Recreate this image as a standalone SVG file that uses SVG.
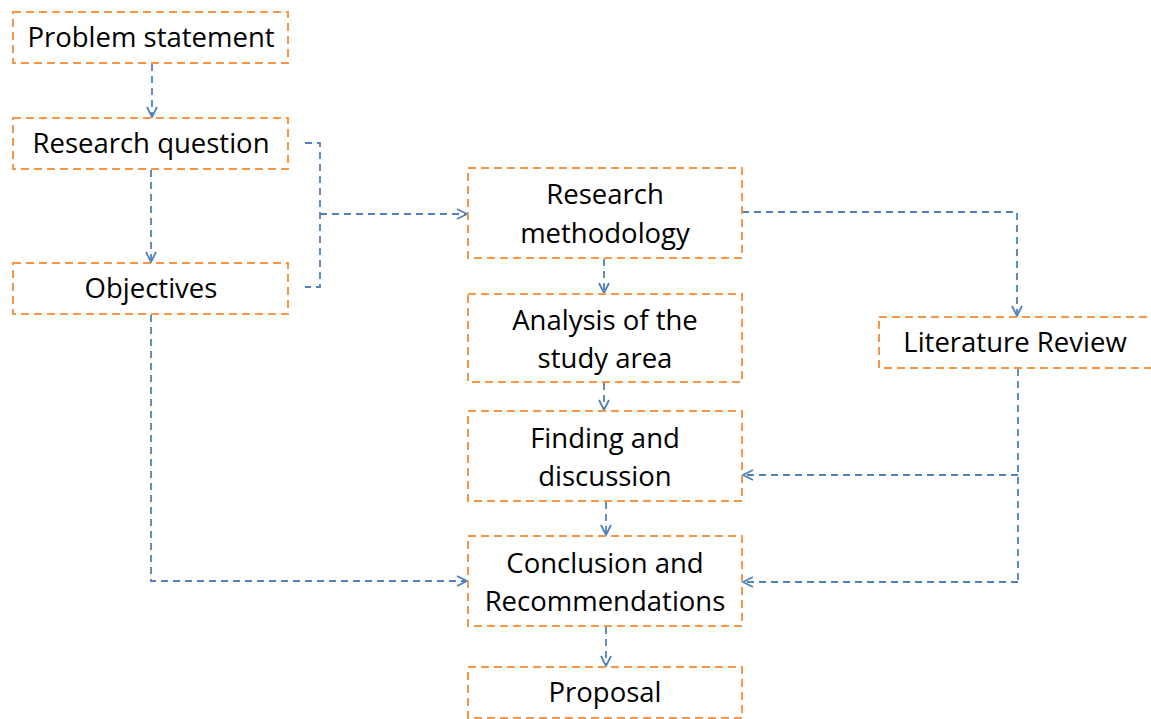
<svg xmlns="http://www.w3.org/2000/svg" width="1151" height="719" viewBox="0 0 1151 719">
<style>
.box{fill:#fff;stroke:#F79646;stroke-width:2;stroke-dasharray:8,5}
.t{font-family:"Open Sans","Liberation Sans",sans-serif;font-size:27.5px;fill:#000;text-anchor:middle}
.c{fill:none;stroke:#4F81BD;stroke-width:1.8;stroke-dasharray:7,5}
</style>
<defs>
<marker id="a" viewBox="0 0 12 12" refX="11" refY="6" markerWidth="12" markerHeight="12" markerUnits="userSpaceOnUse" orient="auto">
<path d="M1,1 L11,6 L1,11" fill="none" stroke="#4F81BD" stroke-width="1.8"/>
</marker>
</defs>
<rect width="1151" height="719" fill="#fff"/>
<g id="connectors">
<path class="c" d="M152,64 V117" marker-end="url(#a)"/>
<path class="c" d="M151,170 V262" marker-end="url(#a)"/>
<path class="c" d="M305,143 H320 V287 H305"/>
<path class="c" d="M320,214 H467" marker-end="url(#a)"/>
<path class="c" d="M742,212 H1017 V316" marker-end="url(#a)"/>
<path class="c" d="M604,259 V293" marker-end="url(#a)"/>
<path class="c" d="M604,383 V410" marker-end="url(#a)"/>
<path class="c" d="M606,502 V535" marker-end="url(#a)"/>
<path class="c" d="M606,627 V666" marker-end="url(#a)"/>
<path class="c" d="M1018,369 V582"/>
<path class="c" d="M1018,475 H743" marker-end="url(#a)"/>
<path class="c" d="M1018,582 H743" marker-end="url(#a)"/>
<path class="c" d="M151,315 V581 H467" marker-end="url(#a)"/>
</g>
<g id="problem"><rect class="box" x="13" y="12" width="275" height="51"/><text class="t" x="151" y="47">Problem statement</text></g>
<g id="question"><rect class="box" x="13" y="118" width="275" height="51"/><text class="t" x="151" y="153">Research question</text></g>
<g id="objectives"><rect class="box" x="13" y="263" width="275" height="51"/><text class="t" x="151" y="298">Objectives</text></g>
<g id="methodology"><rect class="box" x="468" y="168" width="274" height="90"/><text class="t" x="605" y="204">Research</text><text class="t" x="605" y="243">methodology</text></g>
<g id="analysis"><rect class="box" x="468" y="294" width="274" height="88"/><text class="t" x="605" y="330">Analysis of the</text><text class="t" x="605" y="368">study area</text></g>
<g id="finding"><rect class="box" x="468" y="411" width="274" height="90"/><text class="t" x="605" y="448">Finding and</text><text class="t" x="605" y="486">discussion</text></g>
<g id="conclusion"><rect class="box" x="468" y="536" width="274" height="90"/><text class="t" x="605" y="573">Conclusion and</text><text class="t" x="605" y="611">Recommendations</text></g>
<g id="proposal"><rect class="box" x="468" y="667" width="274" height="51"/><text class="t" x="605" y="702">Proposal</text></g>
<g id="literature"><rect class="box" x="879" y="317" width="280" height="51"/><text class="t" x="1015" y="352">Literature Review</text></g>
</svg>
